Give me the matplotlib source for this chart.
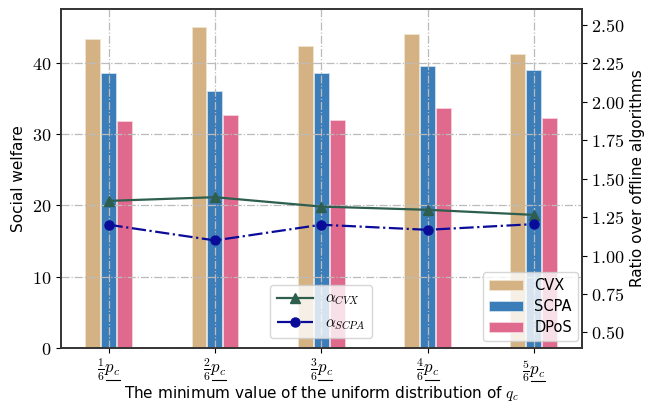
import matplotlib as mpl
mpl.use('Agg')
import matplotlib.pyplot as plt
from matplotlib.lines import Line2D
import numpy as np

plt.rcParams['mathtext.fontset'] = 'cm'
plt.rcParams['font.family'] = 'DejaVu Sans'

categories = [r'$\frac{1}{6}p_c$', r'$\frac{2}{6}p_c$', r'$\frac{3}{6}p_c$',
              r'$\frac{4}{6}p_c$', r'$\frac{5}{6}p_c$']
cvx = [43.3, 45.0, 42.3, 44.0, 41.2]
scpa = [38.5, 36.0, 38.5, 39.5, 39.0]
dpos = [31.8, 32.7, 31.9, 33.7, 32.3]
alpha_cvx = [1.355, 1.379, 1.318, 1.297, 1.264]
alpha_scpa = [1.200, 1.098, 1.200, 1.167, 1.204]

x = np.arange(1, len(categories) + 1)

fig = plt.figure(figsize=(6.46, 4.04), dpi=100)
ax = fig.add_axes([0.094, 0.139, 0.8065, 0.838])

w = 0.14
ax.bar(x - 0.15, cvx, width=w, color='#D4B283', edgecolor='#F0E4D0', linewidth=0.6, label='CVX', zorder=2)
ax.bar(x, scpa, width=w, color='#3B7DB9', edgecolor='#CFE0EE', linewidth=0.6, label='SCPA', zorder=2)
ax.bar(x + 0.15, dpos, width=w, color='#E06A8E', edgecolor='#F6D3DE', linewidth=0.6, label='DPoS', zorder=2)

ax.set_xlim(0.55, 5.45)
ax.set_ylim(0, 47.5)
ax.set_xticks(x)
ax.set_xticklabels(categories, fontsize=12)
ax.tick_params(axis='x', pad=3)
ax.set_yticks([0, 10, 20, 30, 40])
ax.set_yticklabels([r'$%d$' % v for v in [0, 10, 20, 30, 40]], fontsize=13)
ax.grid(True, linestyle='-.', color='#BBBBBB', linewidth=0.9, zorder=3)
ax.set_axisbelow(False)
ax.set_ylabel('Social welfare', fontsize=11)
ax.set_xlabel(r'The minimum value of the uniform distribution of $q_c$', fontsize=11, labelpad=0)
ax.legend(loc='lower right', bbox_to_anchor=(1.007, 0.0), fontsize=10.5, handlelength=2.3,
          borderaxespad=0.5, labelspacing=0.4, framealpha=0.8)

ax2 = ax.twinx()
ax2.plot(x, alpha_cvx, color='#2E5E4E', marker='^', markersize=6.5, linewidth=1.6, label=r'$\alpha_{CVX}$')
ax2.plot(x, alpha_scpa, color='#0B0B9A', marker='o', markersize=6.5, linewidth=1.6, linestyle='-.', label=r'$\alpha_{SCPA}$')
ax2.set_ylim(0.4, 2.6)
rt = [0.50, 0.75, 1.00, 1.25, 1.50, 1.75, 2.00, 2.25, 2.50]
ax2.set_yticks(rt)
ax2.set_yticklabels([r'$%.2f$' % v for v in rt], fontsize=13)
ax2.set_ylabel('Ratio over offline algorithms', fontsize=11)
ax2.legend(loc='lower center', bbox_to_anchor=(0.5, 0.007), fontsize=11, handlelength=2.4,
           borderaxespad=0.5, framealpha=0.8)

for a in (ax, ax2):
    for s in a.spines.values():
        s.set_linewidth(1.2)
        s.set_color('#333333')

# mathtext has no \underline, so underline p_c by hand
fig.canvas.draw()
r = fig.canvas.get_renderer()
for lab in ax.get_xticklabels():
    bb = lab.get_window_extent(r)
    x0 = bb.x0 + 0.38 * bb.width
    yl = bb.y0 + 2.5
    fig.add_artist(Line2D([x0 / fig.bbox.width, (bb.x1 - 0.5) / fig.bbox.width],
                          [yl / fig.bbox.height, yl / fig.bbox.height],
                          color='black', linewidth=0.8))

fig.savefig('out.png', dpi=100)
